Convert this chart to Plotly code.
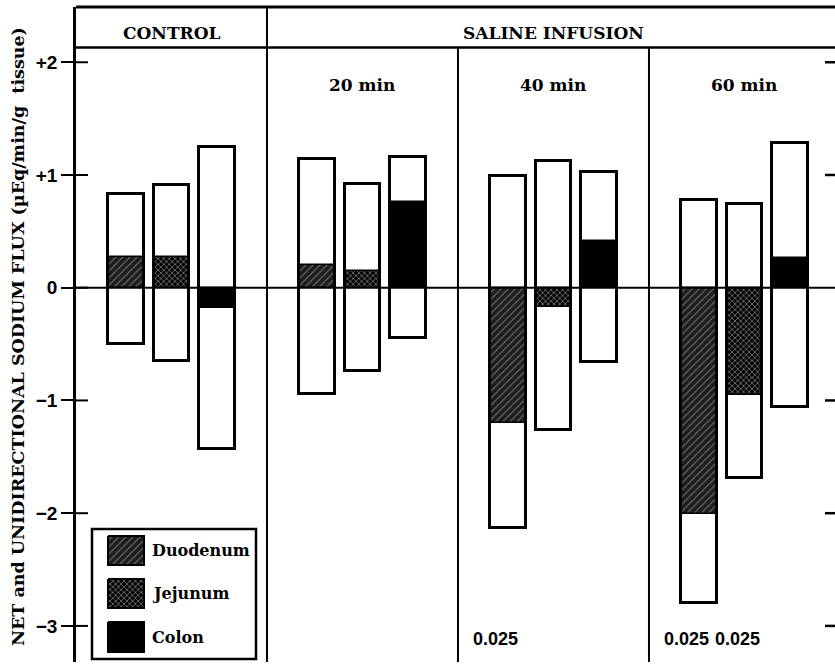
import plotly.graph_objects as go

# ---------------- data ----------------
groups = ["CONTROL", "20 min", "40 min", "60 min"]
organs = ["Duodenum", "Jejunum", "Colon"]

# unidirectional influx (top of box), efflux (bottom of box), net flux (filled part)
duodenum_top = [0.83, 1.14, 0.99, 0.78]
duodenum_bottom = [-0.50, -0.94, -2.13, -2.80]
duodenum_net = [0.27, 0.20, -1.20, -2.01]

jejunum_top = [0.91, 0.92, 1.12, 0.745]
jejunum_bottom = [-0.65, -0.74, -1.26, -1.69]
jejunum_net = [0.27, 0.145, -0.17, -0.95]

colon_top = [1.25, 1.16, 1.03, 1.28]
colon_bottom = [-1.43, -0.45, -0.66, -1.06]
colon_net = [-0.18, 0.76, 0.41, 0.26]

duodenum_p = ["", "", "0.025", "0.025"]
jejunum_p = ["", "", "", "0.025"]
colon_p = ["", "", "", ""]

tick_vals = [2, 1, 0, -1, -2, -3]
tick_text = ["+2", "+1", "0", "\u22121", "\u22122", "\u22123"]

series = {
    "Duodenum": (duodenum_top, duodenum_bottom, duodenum_net, duodenum_p),
    "Jejunum": (jejunum_top, jejunum_bottom, jejunum_net, jejunum_p),
    "Colon": (colon_top, colon_bottom, colon_net, colon_p),
}

patterns = {
    "Duodenum": dict(shape="/", bgcolor="#1c1c1c", fgcolor="#a8a8a8", size=5, solidity=0.28),
    "Jejunum": dict(shape="x", bgcolor="#000000", fgcolor="#ffffff", size=4, solidity=0.35),
    "Colon": dict(shape="", bgcolor="#000000", fgcolor="#000000", size=6, solidity=1),
}
p_shift = {"Duodenum": -13, "Jejunum": -7, "Colon": 0}

# ---------------- layout constants ----------------
W, H = 835, 666
ML, MR, MT, MB = 76, 0, 7, 4
PW = W - ML - MR
PH = H - MT - MB
offsets = [-0.236, 0.0, 0.236]
bar_w = 0.188
x_range = [-0.5, 3.474]
y_range = [-3.32, 2.49]
header_y = 2.13

SERIF = "DejaVu Serif"
SANS = "Liberation Sans"

def px_x(p):
    return (p - ML) / PW

def px_y(p):
    return (H - MB - p) / PH

fig = go.Figure()

for i, org in enumerate(organs):
    top, bot, net, pv = series[org]
    xs = [g + offsets[i] for g in range(len(groups))]
    heights = [t - b for t, b in zip(top, bot)]
    # white box
    fig.add_trace(go.Bar(x=xs, y=heights, base=bot, width=bar_w,
                         marker=dict(color="white", line=dict(width=0)),
                         showlegend=False, hoverinfo="skip"))
    # net flux
    fig.add_trace(go.Bar(x=xs, y=net, base=[0] * len(net), width=bar_w,
                         marker=dict(color=patterns[org]["bgcolor"],
                                     pattern=patterns[org],
                                     line=dict(color="black", width=1.5)),
                         name=org, showlegend=False))
    # outline
    fig.add_trace(go.Bar(x=xs, y=heights, base=bot, width=bar_w,
                         marker=dict(color="rgba(0,0,0,0)", line=dict(color="black", width=3)),
                         showlegend=False, hoverinfo="skip"))
    for x, p in zip(xs, pv):
        if p:
            fig.add_annotation(x=x, y=-3.12, text="<b>" + p + "</b>", showarrow=False,
                               xshift=p_shift[org], font=dict(family=SANS, size=18, color="black"))

# ---------------- custom legend (overlay axes in plot fraction) ----------------
legend_rows = [(0.1923, 0.1481, 0.171), (0.1267, 0.0824, 0.105), (0.0611, 0.0153, 0.038)]
sx0, sx1 = px_x(108), px_x(144)
for org, (ya, yb, yc) in zip(organs, legend_rows):
    fig.add_trace(go.Scatter(x=[sx0, sx1, sx1, sx0, sx0], y=[ya, ya, yb, yb, ya],
                             mode="lines", fill="toself",
                             fillcolor=patterns[org]["bgcolor"],
                             fillpattern=patterns[org],
                             line=dict(color="black", width=2),
                             xaxis="x2", yaxis="y2", showlegend=False, hoverinfo="skip"))
    fig.add_annotation(x=px_x(150), y=yc, xref="x2", yref="y2", xanchor="left",
                       text="<b>" + org + "</b>", showarrow=False,
                       font=dict(family=SERIF, size=16, color="black"))

shapes = []
# legend box
shapes.append(dict(type="rect", xref="paper", yref="paper", x0=px_x(92), x1=px_x(256),
                   y0=px_y(659), y1=px_y(529), line=dict(color="black", width=2.5), layer="above"))
# zero line
shapes.append(dict(type="line", xref="paper", yref="y", x0=0, x1=1, y0=0, y1=0,
                   line=dict(color="black", width=2), layer="above"))
# top frame
shapes.append(dict(type="line", xref="paper", yref="paper", x0=0, x1=1, y0=1, y1=1,
                   line=dict(color="black", width=3), layer="above"))
# header line
shapes.append(dict(type="line", xref="paper", yref="y", x0=0, x1=1, y0=header_y, y1=header_y,
                   line=dict(color="black", width=2.5), layer="above"))
# dividers
shapes.append(dict(type="line", xref="x", yref="paper", x0=0.5, x1=0.5, y0=0, y1=1,
                   line=dict(color="black", width=2), layer="above"))
for xd in [1.5, 2.5]:
    shapes.append(dict(type="line", xref="x", yref="y", x0=xd, x1=xd, y0=y_range[0], y1=header_y,
                       line=dict(color="black", width=2), layer="above"))
# inner left ticks and right ticks
for tv in tick_vals:
    shapes.append(dict(type="line", xref="paper", yref="y", x0=0, x1=12 / PW, y0=tv, y1=tv,
                       line=dict(color="black", width=2), layer="above"))
    if tv != 0:
        shapes.append(dict(type="line", xref="paper", yref="y", x0=px_x(825), x1=1, y0=tv, y1=tv,
                           line=dict(color="black", width=2.5), layer="above"))

# header texts
fig.add_annotation(x=0, y=2.26, text="<b>CONTROL</b>", showarrow=False,
                   font=dict(family=SERIF, size=17, color="black"))
fig.add_annotation(x=2, y=2.26, text="<b>SALINE INFUSION</b>", showarrow=False,
                   font=dict(family=SERIF, size=17, color="black"))
for g in range(1, len(groups)):
    fig.add_annotation(x=g, y=1.80, text="<b>" + groups[g] + "</b>", showarrow=False,
                       font=dict(family=SERIF, size=17, color="black"))

# y-axis title
fig.add_annotation(xref="paper", yref="paper", x=px_x(18), y=px_y(337), textangle=-90,
                   xanchor="center", yanchor="middle",
                   text="<b>NET and UNIDIRECTIONAL SODIUM FLUX (\u00b5Eq/min/g\u00a0\u00a0tissue)</b>",
                   showarrow=False, font=dict(family=SERIF, size=17.5, color="black"))

fig.update_layout(
    width=W, height=H,
    margin=dict(l=ML, r=MR, t=MT, b=MB),
    paper_bgcolor="white", plot_bgcolor="white",
    barmode="overlay", bargap=0,
    shapes=shapes,
    showlegend=False,
    xaxis=dict(range=x_range, showticklabels=False, ticks="", showgrid=False,
               zeroline=False, showline=False, fixedrange=True),
    yaxis=dict(range=y_range, tickvals=tick_vals, ticktext=tick_text,
               ticks="outside", ticklen=12, tickwidth=2, tickcolor="black",
               tickfont=dict(family=SANS, size=19, color="black", weight="bold"),
               showgrid=False, zeroline=False, showline=True, linecolor="black",
               linewidth=2.5, fixedrange=True),
    xaxis2=dict(range=[0, 1], domain=[0, 1], overlaying="x", visible=False, fixedrange=True),
    yaxis2=dict(range=[0, 1], domain=[0, 1], overlaying="y", visible=False, fixedrange=True),
)

fig.write_html("out.html", config={"displayModeBar": False},
               post_script="document.body.style.margin='0';document.body.style.overflow='hidden';")
